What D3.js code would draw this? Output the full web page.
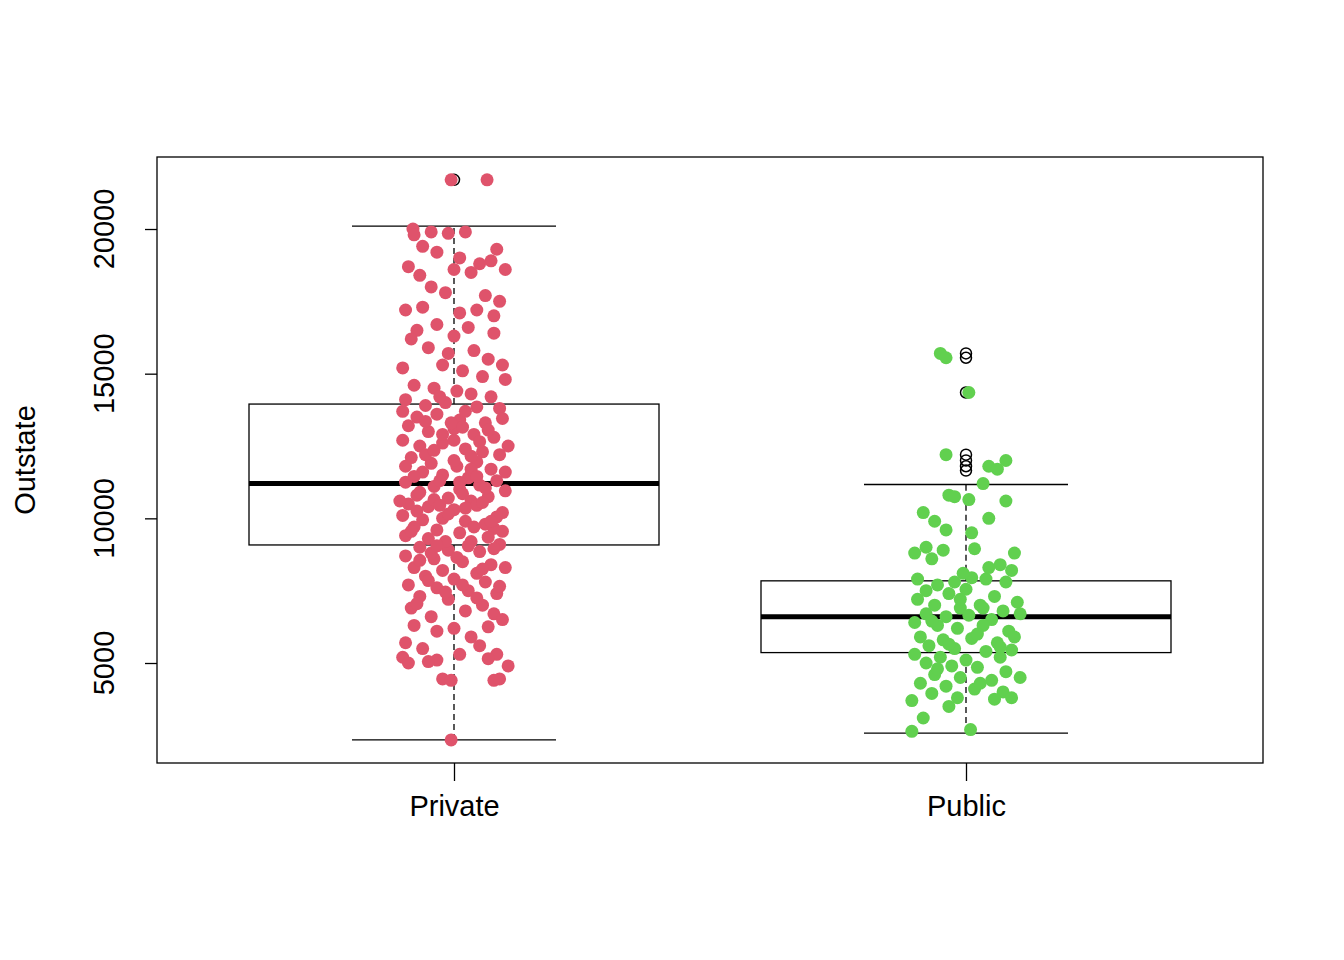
<!DOCTYPE html>
<meta charset="utf-8">
<style>
body { margin:0; background:#fff; }
text { font-family: Arial, "Liberation Sans", sans-serif; }
</style>
<body>
<svg id="chart" width="1344" height="960"></svg>
<script src="https://d3js.org/d3.v7.min.js"></script>
<script>

var categories = ['Private', 'Public'];
var yTicks = [5000, 10000, 15000, 20000];

// box stats: lower whisker, Q1, median, Q3, upper whisker
var boxStats = [
  [2340, 9080, 11200, 13950, 20100],
  [2580, 5360, 6600, 7840, 11170]
];
var outliers = [
  [21700],
  [15700, 15550, 14350, 12200, 12000, 11800, 11650]
];

// jittered points: [offset in -1..1, Outstate]
var privatePts = [
  [-0.05,21700],[0.58,21700],[-0.72,20000],[-0.7,19800],[-0.4,19900],[-0.1,19850],[0.2,19900],[0.75,19300],[0.9,18600],
  [-0.55,19400],[-0.3,19200],[0.1,19000],[0.45,18800],[0.65,18900],[-0.8,18700],[-0.6,18400],[0.0,18600],[0.3,18500],
  [-0.4,18000],[-0.15,17800],[0.55,17700],[0.8,17500],[-0.85,17200],[-0.55,17300],[0.1,17100],[0.4,17200],[0.7,17000],
  [-0.65,16500],[-0.3,16700],[0.0,16300],[0.25,16600],[0.7,16400],[-0.75,16200],[-0.45,15900],[-0.1,15700],[0.35,15800],
  [0.6,15500],[0.85,15300],[-0.9,15200],[-0.2,15300],[0.15,15100],[0.5,14900],[0.9,14800],[-0.7,14600],[-0.35,14500],
  [0.05,14400],[0.3,14300],[0.65,14200],[-0.85,14100],[-0.5,13900],[-0.15,14000],[0.4,13850],[0.8,13800],[-0.65,13500],
  [-0.3,13600],[0.1,13400],[0.55,13300],[0.85,13450],[-0.8,13200],[-0.45,13000],[0.0,13100],[0.35,12900],[0.7,12800],
  [-0.9,12700],[-0.6,12500],[-0.2,12600],[0.2,12400],[0.5,12300],[0.8,12200],[-0.75,12100],[-0.4,11900],[0.05,11800],
  [0.4,11950],[0.65,11700],[-0.55,11600],[-0.2,11500],[0.25,11400],[0.75,11300],[-0.85,11250],[-0.35,11100],[0.1,11000],
  [0.45,11150],[0.9,10950],[-0.65,10800],[-0.1,10700],[0.3,10600],[0.6,10750],[-0.8,10500],[-0.45,10400],[0.0,10300],
  [0.4,10450],[0.85,10200],[-0.9,10100],[-0.55,9950],[-0.2,10000],[0.2,9900],[0.55,9800],[-0.7,9700],[-0.3,9600],
  [0.1,9500],[0.7,9650],[-0.85,9400],[-0.45,9300],[0.3,9200],[0.8,9100],[-0.6,9000],[-0.1,8900],[0.45,8850],
  [-0.85,8700],[-0.35,8600],[0.15,8500],[0.65,8400],[-0.7,8300],[-0.2,8200],[0.4,8100],[0.9,8300],[-0.5,8000],
  [0.0,7900],[0.55,7800],[-0.8,7700],[-0.3,7600],[0.25,7500],[0.75,7400],[-0.6,7300],[-0.1,7200],[0.5,7000],
  [-0.75,6900],[0.2,6800],[0.7,6700],[-0.4,6600],[0.85,6500],[-0.7,6300],[0.0,6200],[0.6,6250],[-0.3,6100],
  [0.3,5900],[-0.85,5700],[0.45,5600],[-0.55,5500],[0.75,5300],[-0.9,5200],[0.1,5300],[-0.3,5100],[0.6,5150],
  [-0.8,5000],[-0.45,5050],[0.95,4900],[-0.2,4450],[-0.05,4400],[0.7,4400],[0.8,4450],[-0.05,2340],
  [-0.6,10900],[-0.25,11300],[0.15,10850],[0.5,10550],[-0.5,12200],[0.0,12000],[0.3,11700],[-0.15,9200],[0.6,9350],
  [-0.4,8800],[0.25,9050],[-0.65,10250],[0.75,10050],[-0.05,13300],[0.2,13700],[-0.25,14200],[0.45,12650],[-0.85,11800],
  [-0.5,13350],[0.6,13050],[-0.2,12900],[0.3,12150],[-0.7,11450],[0.1,11250],[0.55,11050],[-0.35,10650],[0.2,10350],
  [-0.1,10150],[0.65,9900],[-0.75,9550],[0.35,9700],[-0.3,9050],[0.7,8950],[-0.6,8550],[0.05,8650],[0.5,8250],
  [-0.45,7850],[0.15,7700],[0.8,7650],[-0.15,7450],[0.4,7250],[-0.65,7050],[0.9,11600],[-0.95,10600],[0.95,12500],
  [-0.9,13700],[0.0,12700],[-0.35,12350],[0.4,11450],[0.15,13150],[-0.25,10450],[0.85,9550]
];
var publicPts = [
  [-0.45,15700],[-0.35,15550],[0.05,14350],[-0.35,12200],[0.7,12000],[0.4,11800],[0.55,11700],[0.3,11200],
  [-0.3,10800],[-0.2,10750],[0.05,10650],[0.7,10600],[-0.75,10200],[-0.55,9900],[0.4,10000],[-0.35,9600],[0.1,9500],
  [-0.9,8800],[-0.7,9000],[-0.4,8900],[0.15,8950],[0.85,8800],[-0.6,8600],[0.6,8400],[0.8,8200],[-0.85,7900],
  [-0.5,7700],[-0.2,7800],[0.1,7950],[0.35,7900],[0.7,7800],[-0.7,7500],[-0.3,7400],[0.0,7550],[0.5,7300],[0.9,7100],
  [-0.85,7200],[-0.55,7000],[-0.1,6900],[0.25,7000],[0.65,6800],[-0.7,6700],[-0.35,6600],[0.05,6650],[0.45,6500],
  [0.95,6700],[-0.9,6400],[-0.5,6300],[-0.15,6200],[0.3,6300],[0.75,6100],[-0.8,5900],[-0.4,5800],[0.1,5850],
  [0.55,5700],[-0.65,5600],[-0.2,5500],[0.35,5400],[0.8,5450],[-0.9,5300],[-0.45,5200],[0.0,5100],[0.6,5200],
  [-0.7,5000],[-0.25,4900],[0.2,4850],[0.7,4700],[-0.55,4600],[-0.1,4500],[0.45,4400],[0.95,4500],[-0.8,4300],
  [-0.35,4200],[0.15,4100],[0.65,4000],[-0.6,3950],[-0.15,3800],[0.5,3750],[0.8,3800],[-0.95,3700],[-0.3,3500],
  [-0.75,3100],[-0.95,2640],[0.08,2700],[0.3,6900],[-0.1,7200],[0.2,6000],[-0.6,6450],[0.6,5550],[-0.3,5650],
  [0.4,8300],[-0.05,8100],[0.85,5900],[-0.5,4800],[0.25,4300]
];
var pointSets = [privatePts, publicPts];
var pointColors = ['#DF536B', '#61D04F'];

var svg = d3.select('#chart');
var plot = {left: 157, right: 1263, top: 157, bottom: 763};

var y = d3.scaleLinear().domain([1544, 22489]).range([plot.bottom, plot.top]);
var x = d3.scalePoint().domain(categories).range([454, 966]);
var jitter = d3.scaleLinear().domain([-1, 1]).range([-57, 57]);
var boxHalf = 205, capHalf = 102;

// boxes
categories.forEach(function(c, i) {
  var s = boxStats[i], cx = x(c);
  var g = svg.append('g').attr('stroke', '#000').attr('fill', 'none');
  g.append('line').attr('x1', cx).attr('x2', cx).attr('y1', y(s[0])).attr('y2', y(s[1]))
    .attr('stroke-dasharray', '6,4').attr('stroke-width', 1.3);
  g.append('line').attr('x1', cx).attr('x2', cx).attr('y1', y(s[3])).attr('y2', y(s[4]))
    .attr('stroke-dasharray', '6,4').attr('stroke-width', 1.3);
  [s[0], s[4]].forEach(function(v) {
    g.append('line').attr('x1', cx - capHalf).attr('x2', cx + capHalf)
      .attr('y1', y(v)).attr('y2', y(v)).attr('stroke-width', 1.3);
  });
  g.append('rect').attr('x', cx - boxHalf).attr('width', 2 * boxHalf)
    .attr('y', y(s[3])).attr('height', y(s[1]) - y(s[3])).attr('stroke-width', 1.3);
  g.append('line').attr('x1', cx - boxHalf).attr('x2', cx + boxHalf)
    .attr('y1', y(s[2])).attr('y2', y(s[2])).attr('stroke-width', 5);
  outliers[i].forEach(function(v) {
    g.append('circle').attr('cx', cx).attr('cy', y(v)).attr('r', 5.5).attr('stroke-width', 1.5);
  });
});

// jittered points
pointSets.forEach(function(pts, i) {
  svg.append('g').selectAll('circle').data(pts).join('circle')
    .attr('cx', function(d) { return x(categories[i]) + jitter(d[0]); })
    .attr('cy', function(d) { return y(d[1]); })
    .attr('r', 6.5)
    .attr('fill', pointColors[i]);
});

// frame
svg.append('rect').attr('x', plot.left).attr('y', plot.top)
  .attr('width', plot.right - plot.left).attr('height', plot.bottom - plot.top)
  .attr('fill', 'none').attr('stroke', '#000').attr('stroke-width', 1.3);

// y axis: ticks from d3, labels rotated by hand
svg.append('g').attr('transform', 'translate(' + plot.left + ',0)')
  .call(d3.axisLeft(y).tickValues(yTicks).tickSize(12).tickFormat(''))
  .call(function(g) {
    g.select('.domain').remove();
    g.selectAll('line').attr('stroke-width', 1.3);
  });
svg.append('g').selectAll('text').data(yTicks).join('text')
  .attr('transform', function(d) { return 'translate(114,' + y(d) + ') rotate(-90)'; })
  .attr('text-anchor', 'middle').attr('font-size', 29).text(function(d) { return d; });

svg.append('g').attr('transform', 'translate(0,' + plot.bottom + ')')
  .call(d3.axisBottom(x).tickSize(18).tickPadding(14))
  .call(function(g) {
    g.select('.domain').remove();
    g.selectAll('line').attr('stroke-width', 1.3);
    g.selectAll('text').attr('font-size', 29);
  });

svg.append('text').attr('transform', 'translate(35,460) rotate(-90)')
  .attr('text-anchor', 'middle').attr('font-size', 29).text('Outstate');

</script>
</body>
